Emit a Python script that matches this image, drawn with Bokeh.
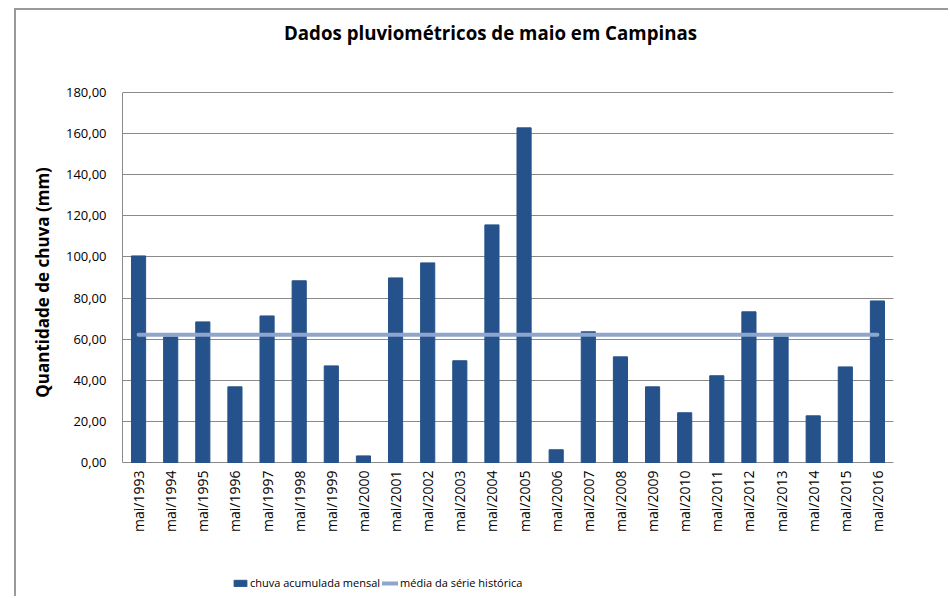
from bokeh.plotting import figure
from bokeh.models import (ColumnDataSource, Legend, LegendItem, FactorRange,
                          FixedTicker, Range1d, Label)
from bokeh.embed import file_html
from bokeh.resources import INLINE
from bokeh.core.properties import value
import math

# ---- data ----
anos = ["mai/1993", "mai/1994", "mai/1995", "mai/1996", "mai/1997", "mai/1998",
        "mai/1999", "mai/2000", "mai/2001", "mai/2002", "mai/2003", "mai/2004",
        "mai/2005", "mai/2006", "mai/2007", "mai/2008", "mai/2009", "mai/2010",
        "mai/2011", "mai/2012", "mai/2013", "mai/2014", "mai/2015", "mai/2016"]
chuva = [100.5, 61.1, 68.4, 36.8, 71.3, 88.4,
         47.0, 3.2, 89.8, 97.1, 49.5, 115.6,
         162.8, 6.2, 63.6, 51.4, 36.8, 24.2,
         42.2, 73.3, 61.1, 22.7, 46.5, 78.6]
media = 62.2
y_ticks = [0, 20, 40, 60, 80, 100, 120, 140, 160, 180]
y_tick_labels = ["0,00", "20,00", "40,00", "60,00", "80,00", "100,00",
                 "120,00", "140,00", "160,00", "180,00"]

titulo = "Dados pluviométricos de maio em Campinas"
eixo_y = "Quantidade de chuva (mm)"
serie_barras = "chuva acumulada mensal"
serie_media = "média da série histórica"

FONT = "Open Sans"
BAR = "#25528a"
MEAN = "#8ea6ce"
GRID = "#8a8a8a"

# ---- layout (pixels) ----
W, H = 934, 588
FR_L = 106                    # frame left inside canvas
TOP_PX = 82                   # pixels from canvas top to the 180 line
PLOT_H = 370                  # pixels between 0 and 180
PLOT_W = 771
Y_MAX = 180
PX_PER_UNIT = PLOT_H / Y_MAX
below_px = H - TOP_PX - PLOT_H           # room under zero for labels + legend
y_min = -below_px / PX_PER_UNIT
y_top = Y_MAX + TOP_PX / PX_PER_UNIT
title_y = Y_MAX + 60 / PX_PER_UNIT        # title 60 px above the 180 line
title_x = 368 / (PLOT_W / len(anos))      # title centre, 368 px right of the axis

src = ColumnDataSource(dict(ano=anos, chuva=chuva, media=[media] * len(anos),
                            base=[0] * len(anos)))

p = figure(width=W, height=H, output_backend="svg", toolbar_location=None,
           x_range=FactorRange(*anos, range_padding=0),
           y_range=Range1d(y_min, y_top),
           min_border_left=FR_L, min_border_right=57, min_border_top=0,
           min_border_bottom=0)
p.styles = {"border-left": "2px solid #9a9a9a", "border-top": "2px solid #9a9a9a",
            "margin-left": "14px", "margin-top": "8px"}

p.add_layout(Label(x=title_x, y=title_y, text=titulo, text_align="center",
                   text_baseline="middle", text_font=FONT,
                   text_font_size="18.7px", text_font_style="bold",
                   text_color="#000000"))

bars = p.vbar(x="ano", top="chuva", bottom="base", width=0.44, source=src, color=BAR)
line = p.line(x="ano", y="media", source=src, line_color=MEAN, line_width=4,
              line_cap="round")

# category labels under the zero line, read bottom-to-top
p.text(x="ano", y="base", text="ano", source=src, angle=math.pi / 2,
       text_align="right", text_baseline="middle", y_offset=8,
       text_font=value(FONT), text_font_size="14px", text_color="#000000")

p.outline_line_color = None
p.xgrid.grid_line_color = None
p.ygrid.grid_line_color = GRID
p.ygrid.grid_line_width = 1
p.xaxis.visible = False

p.yaxis.ticker = FixedTicker(ticks=y_ticks)
p.yaxis.bounds = (0, Y_MAX)
p.yaxis.major_label_overrides = {t: l for t, l in zip(y_ticks, y_tick_labels)}
p.yaxis.axis_line_color = GRID
p.yaxis.major_tick_line_color = None
p.yaxis.minor_tick_line_color = None
p.yaxis.major_label_standoff = 10
p.yaxis.major_label_text_font = FONT
p.yaxis.major_label_text_font_size = "13px"
p.yaxis.major_label_text_color = "#000000"
# leading no-break spaces lift the centred label to the middle of the 0-180 span
p.yaxis.axis_label = "\u00a0" * 10 + eixo_y
p.yaxis.axis_label_text_font = FONT
p.yaxis.axis_label_text_font_size = "17px"
p.yaxis.axis_label_text_font_style = "bold"
p.yaxis.axis_label_text_color = "#000000"
p.yaxis.axis_label_standoff = 9

legend = Legend(items=[LegendItem(label=serie_barras, renderers=[bars]),
                       LegendItem(label=serie_media, renderers=[line])],
                orientation="horizontal", location=(110, 8),
                glyph_width=16, glyph_height=8, label_standoff=2, spacing=2,
                padding=0, margin=0, border_line_color=None,
                background_fill_alpha=0, label_text_color="#000000",
                label_text_font=FONT, label_text_font_size="11px")
p.add_layout(legend)

open("out.html", "w").write(file_html(p, INLINE))
